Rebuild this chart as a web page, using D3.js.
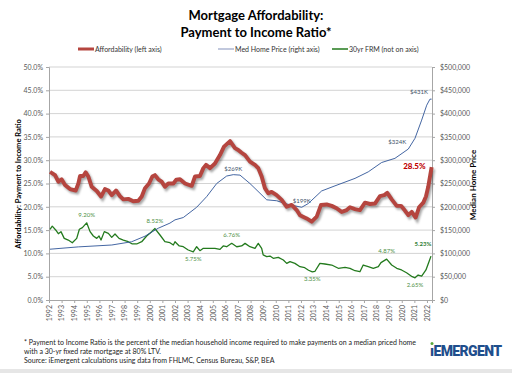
<!DOCTYPE html>
<html lang="en">
<head>
  <meta charset="UTF-8">
  <title>Mortgage Affordability</title>
  <script src="https://d3js.org/d3.v7.min.js"></script>
  <style>
    body { margin: 0; background: #fff; font-family: Lato, "Open Sans", sans-serif; }
    svg { display: block; }
  </style>
</head>
<body>
  <svg id="chart" width="512" height="373"></svg>
  <script>
    // payment to income ratio (%), by decimal year
    const affordability = [
      [1992.08, 27.5], [1992.48, 26.8], [1992.74, 25.4], [1993.0, 25.9], [1993.27, 24.7],
      [1993.67, 23.8], [1994.12, 23.5], [1994.33, 25.0], [1994.46, 26.6], [1994.72, 26.6],
      [1994.91, 27.4], [1995.12, 26.5], [1995.39, 24.3], [1995.79, 23.4], [1996.13, 22.2],
      [1996.44, 23.8], [1996.71, 23.5], [1996.98, 22.5], [1997.32, 23.5], [1997.63, 22.3],
      [1997.9, 21.6], [1998.29, 21.7], [1998.69, 21.2], [1999.09, 21.3], [1999.36, 22.2],
      [1999.62, 24.0], [1999.94, 25.0], [2000.2, 26.5], [2000.41, 26.8], [2000.67, 25.9],
      [2000.94, 25.4], [2001.2, 24.3], [2001.47, 25.0], [2001.87, 25.0], [2002.1, 25.8],
      [2002.4, 25.9], [2002.8, 25.0], [2003.33, 24.5], [2003.59, 26.5], [2003.98, 26.6],
      [2004.25, 28.3], [2004.46, 29.0], [2004.78, 28.3], [2005.17, 29.3], [2005.57, 31.1],
      [2005.89, 32.9], [2006.37, 34.1], [2006.76, 32.6], [2007.02, 32.2], [2007.29, 31.6],
      [2007.56, 31.1], [2007.95, 29.7], [2008.35, 29.0], [2008.61, 28.3], [2008.88, 26.5],
      [2009.14, 24.0], [2009.4, 22.9], [2009.67, 23.2], [2010.07, 22.5], [2010.47, 21.5],
      [2010.87, 20.0], [2011.26, 20.4], [2011.66, 19.3], [2011.92, 18.2], [2012.45, 17.5],
      [2012.85, 16.8], [2013.25, 17.9], [2013.59, 20.4], [2014.04, 20.5], [2014.44, 20.2],
      [2014.83, 19.7], [2015.23, 18.9], [2015.63, 19.3], [2015.89, 19.9], [2016.29, 19.5],
      [2016.68, 19.3], [2017.08, 20.9], [2017.48, 20.6], [2017.87, 20.7], [2018.27, 22.3],
      [2018.61, 22.5], [2018.85, 23.0], [2019.2, 21.6], [2019.6, 20.2], [2019.94, 20.2],
      [2020.25, 19.2], [2020.52, 18.2], [2020.79, 18.9], [2021.1, 17.7], [2021.37, 19.9],
      [2021.71, 20.9], [2021.92, 22.2], [2022.1, 24.3], [2022.37, 28.5]
    ];

    // median home price ($), by decimal year
    const homePrice = [
      [1992.08, 109000], [1994.33, 114000], [1996.98, 118000], [1998.56, 125000],
      [1999.62, 137000], [2000.67, 154000], [2001.6, 165000], [2002.0, 172000],
      [2002.66, 177000], [2003.72, 199000], [2004.52, 222000], [2005.31, 250000],
      [2006.1, 266000], [2006.63, 269000], [2007.16, 268000], [2007.95, 250000],
      [2008.75, 229000], [2009.28, 215000], [2010.07, 213000], [2010.87, 206000],
      [2011.52, 202000], [2012.06, 199000], [2012.58, 207000], [2013.64, 234000],
      [2014.7, 245000], [2016.29, 261000], [2017.34, 275000], [2018.4, 295000],
      [2019.46, 304000], [2020.52, 324000], [2021.05, 347000], [2021.58, 386000],
      [2021.98, 418000], [2022.24, 431000], [2022.37, 431000]
    ];

    // 30yr fixed mortgage rate (%), by decimal year
    const frm = [
      [1992.08, 8.43], [1992.26, 8.8], [1992.53, 8.35], [1992.74, 7.9], [1992.95, 8.15],
      [1993.21, 7.35], [1993.53, 7.15], [1993.85, 6.83], [1994.2, 7.35], [1994.41, 8.43],
      [1994.65, 8.62], [1994.99, 9.2], [1995.26, 8.15], [1995.52, 7.63], [1995.79, 7.35],
      [1995.97, 7.63], [1996.13, 7.15], [1996.39, 8.15], [1996.71, 7.95], [1996.98, 7.47],
      [1997.24, 7.87], [1997.56, 7.35], [1997.9, 7.15], [1998.29, 6.95], [1998.61, 6.68],
      [1998.96, 6.68], [1999.36, 6.95], [1999.75, 7.63], [2000.15, 8.15], [2000.41, 8.52],
      [2000.81, 7.75], [2001.2, 6.95], [2001.6, 6.83], [2001.87, 6.56], [2002.0, 6.95],
      [2002.34, 6.44], [2002.66, 6.35], [2003.05, 5.96], [2003.45, 5.75], [2003.72, 6.35],
      [2003.98, 5.88], [2004.25, 6.16], [2004.78, 6.16], [2005.17, 6.16], [2005.57, 6.04],
      [2005.83, 6.44], [2006.1, 6.35], [2006.5, 6.76], [2006.9, 6.35], [2007.29, 6.44],
      [2007.56, 6.75], [2007.95, 6.35], [2008.35, 6.16], [2008.61, 6.75], [2008.88, 6.16],
      [2009.0, 5.37], [2009.28, 5.17], [2009.54, 5.24], [2009.8, 4.97], [2010.2, 5.09],
      [2010.6, 4.77], [2010.87, 4.37], [2011.13, 4.57], [2011.52, 4.37], [2011.92, 3.97],
      [2012.3, 3.85], [2012.6, 3.55], [2012.9, 3.35], [2013.1, 3.4], [2013.5, 4.37],
      [2013.9, 4.29], [2014.44, 4.17], [2014.96, 3.78], [2015.5, 3.9], [2015.89, 3.78],
      [2016.29, 3.49], [2016.68, 3.37], [2016.94, 4.17], [2017.34, 3.97], [2017.74, 3.78],
      [2018.14, 3.97], [2018.35, 4.45], [2018.8, 4.87], [2019.2, 4.17], [2019.6, 3.78],
      [2019.98, 3.58], [2020.38, 3.25], [2020.83, 2.78], [2021.05, 2.65], [2021.3, 2.98],
      [2021.58, 2.86], [2021.92, 3.58], [2022.16, 4.57], [2022.32, 5.23]
    ];

    const frmLabels = [
      { year: 1994.99, rate: 9.2, text: "9.20%", pos: "above" },
      { year: 2000.41, rate: 8.52, text: "8.52%", pos: "above" },
      { year: 2003.45, rate: 5.75, text: "5.75%", pos: "below" },
      { year: 2006.5, rate: 6.76, text: "6.76%", pos: "above" },
      { year: 2012.9, rate: 3.35, text: "3.35%", pos: "below" },
      { year: 2018.8, rate: 4.87, text: "4.87%", pos: "above" },
      { year: 2021.05, rate: 2.65, text: "2.65%", pos: "below" },
      { year: 2022.32, rate: 5.23, text: "5.23%", pos: "end" }
    ];
    const priceLabels = [
      { year: 2006.63, price: 269000, text: "$269K", pos: "above" },
      { year: 2012.06, price: 199000, text: "$199K", pos: "above" },
      { year: 2020.52, price: 324000, text: "$324K", pos: "left" },
      { year: 2022.24, price: 431000, text: "$431K", pos: "left" }
    ];

    const years = d3.range(1992, 2023);
    const pctTicks = d3.range(0, 51, 5);
    const priceTicks = d3.range(0, 500001, 50000);
    const footnotes = [
      "* Payment to Income Ratio is the percent of the median household income required to make payments on a median priced home",
      "with a 30-yr fixed rate mortgage at 80% LTV.",
      "Source:  iEmergent calculations using data from FHLMC, Census Bureau, S&P, BEA"
    ];

    const svg = d3.select("#chart");
    const plotLeft = 49, plotRight = 432, plotTop = 67, plotBottom = 300;

    const x = d3.scaleLinear().domain([1992, 2022.4]).range([plotLeft, plotRight]);
    const yL = d3.scaleLinear().domain([0, 50]).range([plotBottom, plotTop]);
    const yR = d3.scaleLinear().domain([0, 500000]).range([plotBottom, plotTop]);
    // rate series sits on a hidden axis
    const yF = d3.scaleLinear().domain([0, 50 / 1.8]).range([plotBottom, plotTop]);

    const red = "#b5453f", blue = "#2f5597", green = "#237a1d", tickColor = "#595959";

    // title
    svg.append("text").attr("x", 256).attr("y", 20).attr("text-anchor", "middle")
      .attr("font-size", 13).attr("font-weight", "bold").text("Mortgage Affordability:");
    svg.append("text").attr("x", 256).attr("y", 37).attr("text-anchor", "middle")
      .attr("font-size", 13).attr("font-weight", "bold").text("Payment to Income Ratio*");

    // legend
    const legend = [
      { x: 78, color: red, width: 3, label: "Affordability (left axis)" },
      { x: 218, color: "#97a3c6", width: 1.2, label: "Med Home Price (right axis)" },
      { x: 332, color: green, width: 1.5, label: "30yr FRM (not on axis)" }
    ];
    const lg = svg.append("g").selectAll("g").data(legend).join("g")
      .attr("transform", d => `translate(${d.x},49)`);
    lg.append("line").attr("x1", 0).attr("x2", 16).attr("stroke", d => d.color)
      .attr("stroke-width", d => d.width);
    lg.append("text").attr("x", 17).attr("y", 2.5).attr("font-size", 7).attr("fill", "#333")
      .text(d => d.label);

    // gridlines
    svg.append("g").selectAll("line").data(pctTicks.slice(1)).join("line")
      .attr("x1", plotLeft).attr("x2", plotRight).attr("y1", d => yL(d)).attr("y2", d => yL(d))
      .attr("stroke", "#c8c8c8").attr("stroke-width", 0.8);

    // axes
    const axL = svg.append("g").attr("transform", `translate(${plotLeft},0)`)
      .call(d3.axisLeft(yL).tickValues(pctTicks).tickSize(3).tickFormat(d => d3.format(".1f")(d) + "%"));
    const axR = svg.append("g").attr("transform", `translate(${plotRight},0)`)
      .call(d3.axisRight(yR).tickValues(priceTicks).tickSize(3).tickFormat(d => "$" + d3.format(",")(d)));
    const axB = svg.append("g").attr("transform", `translate(0,${plotBottom})`)
      .call(d3.axisBottom(x).tickValues(years).tickSize(3).tickFormat(d3.format("d")));
    axB.selectAll("text").attr("transform", "rotate(-90)").attr("text-anchor", "end")
      .attr("x", -5).attr("y", 0).attr("dy", "0.32em");
    [axL, axR, axB].forEach(a => {
      a.selectAll("path,line").attr("stroke", "#a6a6a6");
      a.selectAll("text").attr("fill", tickColor).attr("font-size", 7)
        .attr("font-family", "Lato, sans-serif");
    });
    axR.selectAll("text").attr("x", 8);
    axL.selectAll("text").attr("x", -6);

    // axis titles
    svg.append("text").attr("transform", "translate(21,184) rotate(-90)")
      .attr("text-anchor", "middle").attr("font-size", 7.5).attr("font-weight", "bold")
      .text("Affordability:  Payment to Income Ratio");
    svg.append("text").attr("transform", "translate(476,185) rotate(-90)")
      .attr("text-anchor", "middle").attr("font-size", 8).attr("font-weight", "bold")
      .text("Median Home Price");

    // shadow filter for the main line
    const defs = svg.append("defs");
    defs.append("filter").attr("id", "blur").append("feGaussianBlur").attr("stdDeviation", 1.1);

    const lineL = d3.line().x(d => x(d[0])).y(d => yL(d[1]));
    const lineR = d3.line().x(d => x(d[0])).y(d => yR(d[1]));
    const lineF = d3.line().x(d => x(d[0])).y(d => yF(d[1]));

    svg.append("path").datum(frm).attr("d", lineF).attr("fill", "none")
      .attr("stroke", green).attr("stroke-width", 1.3).attr("stroke-linejoin", "round");
    svg.append("path").datum(homePrice).attr("d", lineR).attr("fill", "none")
      .attr("stroke", blue).attr("stroke-width", 0.9).attr("stroke-linejoin", "round");
    svg.append("path").datum(affordability).attr("d", lineL).attr("fill", "none")
      .attr("stroke", "rgba(0,0,0,0.35)").attr("stroke-width", 4)
      .attr("transform", "translate(1.5,2)").attr("filter", "url(#blur)");
    svg.append("path").datum(affordability).attr("d", lineL).attr("fill", "none")
      .attr("stroke", red).attr("stroke-width", 3.9).attr("stroke-linejoin", "round");

    // data labels
    svg.append("g").selectAll("text").data(frmLabels).join("text")
      .attr("x", d => x(d.year) + (d.pos === "end" ? -8 : 0))
      .attr("y", d => yF(d.rate) + (d.pos === "below" ? 9 : d.pos === "end" ? -10 : -6))
      .attr("text-anchor", "middle").attr("font-size", 6)
      .attr("font-weight", d => d.pos === "end" ? "bold" : "normal")
      .attr("fill", d => d.pos === "end" ? "#2e7d32" : "#4e8f45")
      .text(d => d.text);
    svg.append("g").selectAll("text").data(priceLabels).join("text")
      .attr("x", d => x(d.year) + (d.pos === "left" ? -11 : 0))
      .attr("y", d => yR(d.price) - (d.pos === "left" ? 5 : 4))
      .attr("text-anchor", "middle").attr("font-size", 6).attr("fill", "#44546a")
      .text(d => d.text);
    const lastA = affordability[affordability.length - 1];
    svg.append("text").attr("x", x(lastA[0]) - 6).attr("y", yL(lastA[1]) + 2)
      .attr("text-anchor", "end").attr("font-size", 8).attr("font-weight", "900")
      .attr("fill", "#c00000").text(lastA[1].toFixed(1) + "%");

    // footnote
    svg.append("g").selectAll("text").data(footnotes).join("text")
      .attr("x", 24).attr("y", (d, i) => 345 + i * 9).attr("font-size", 7).attr("fill", "#222")
      .text(d => d);

    // logo
    svg.append("text").attr("x", 430).attr("y", 356).attr("font-size", 14)
      .attr("font-weight", "900").attr("font-family", "Roboto, sans-serif")
      .attr("letter-spacing", -0.6).attr("fill", "#1f4e8c").text("\u0131EMERGENT");
    svg.append("circle").attr("cx", 432).attr("cy", 343.5).attr("r", 1.5).attr("fill", "#5aa83c");

    svg.append("rect").attr("x", 0).attr("y", 369).attr("width", 512).attr("height", 4).attr("fill", "#e6e6e6");
  </script>
</body>
</html>
